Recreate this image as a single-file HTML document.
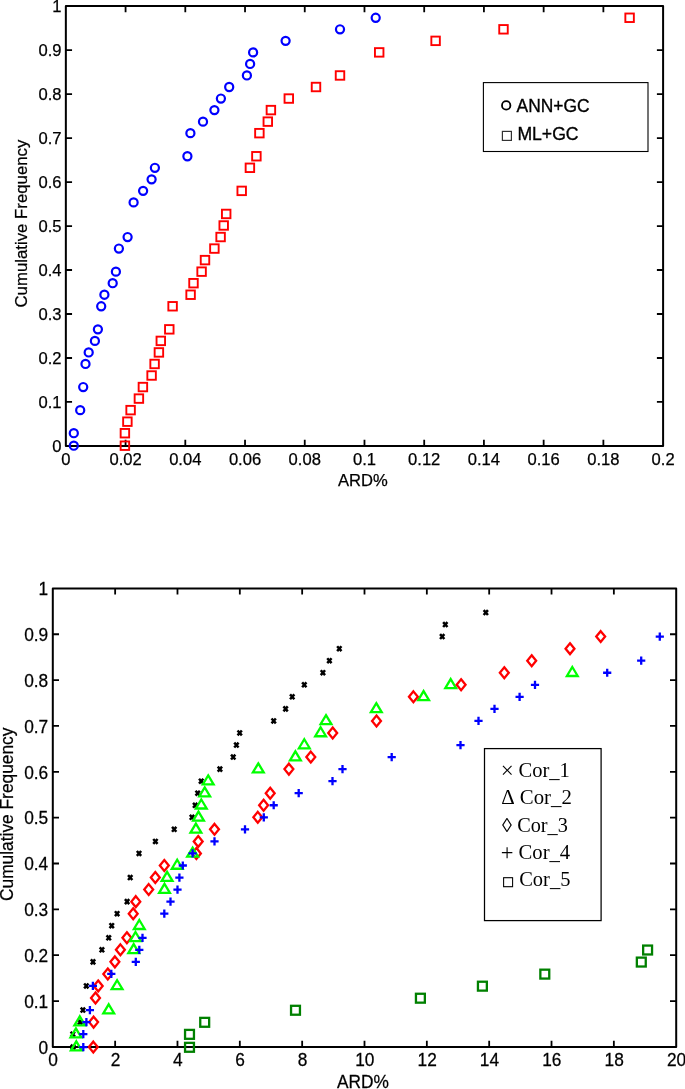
<!DOCTYPE html>
<html lang="en"><head><meta charset="utf-8"><title>Cumulative Frequency vs ARD%</title>
<style>html,body{margin:0;padding:0;background:#fff}body{width:685px;height:1089px;overflow:hidden}svg{display:block}.ax{fill:none;stroke:#000;stroke-width:2;stroke-linejoin:round}.tk{stroke:#000;stroke-width:1.8;fill:none}.t1{font-family:"Liberation Sans",Arial,Helvetica,sans-serif;font-size:16.6px;fill:#000;stroke:#000;stroke-width:.25px}.t2{font-family:"Liberation Sans",Arial,Helvetica,sans-serif;font-size:18.1px;fill:#000;stroke:#000;stroke-width:.25px}.lg1{font-family:"Liberation Sans",Arial,Helvetica,sans-serif;font-size:18.8px;fill:#000;stroke:#000;stroke-width:.35px}.lg2{font-family:"Liberation Serif","Times New Roman",Times,serif;font-size:20px;fill:#000}.bc{fill:none;stroke:#00f;stroke-width:2.2}.rs{fill:none;stroke:#f00;stroke-width:1.9}.kx{fill:none;stroke:#000;stroke-width:2.5}.gt{fill:none;stroke:#0f0;stroke-width:2.3;stroke-linejoin:miter}.rd{fill:none;stroke:#f00;stroke-width:2.3;stroke-linejoin:miter}.bp{fill:none;stroke:#00f;stroke-width:2.3}.gs{fill:none;stroke:#008000;stroke-width:2.3}</style></head><body>
<svg width="685" height="1089" viewBox="0 0 685 1089">
<rect width="685" height="1089" fill="#fff"/>
<g id="plot-top">
<path class="tk" d="M125.57 445.96v-6.2M125.57 6.1v6.2M185.3 445.96v-6.2M185.3 6.1v6.2M245.03 445.96v-6.2M245.03 6.1v6.2M304.75 445.96v-6.2M304.75 6.1v6.2M364.48 445.96v-6.2M364.48 6.1v6.2M424.2 445.96v-6.2M424.2 6.1v6.2M483.92 445.96v-6.2M483.92 6.1v6.2M543.65 445.96v-6.2M543.65 6.1v6.2M603.38 445.96v-6.2M603.38 6.1v6.2M65.85 401.97h6.2M663.1 401.97h-6.2M65.85 357.99h6.2M663.1 357.99h-6.2M65.85 314h6.2M663.1 314h-6.2M65.85 270.02h6.2M663.1 270.02h-6.2M65.85 226.03h6.2M663.1 226.03h-6.2M65.85 182.04h6.2M663.1 182.04h-6.2M65.85 138.06h6.2M663.1 138.06h-6.2M65.85 94.07h6.2M663.1 94.07h-6.2M65.85 50.09h6.2M663.1 50.09h-6.2"/>
<rect class="ax" x="65.85" y="6.1" width="597.25" height="439.86"/>
<text class="t1" x="65.85" y="464.9" text-anchor="middle">0</text>
<text class="t1" x="125.57" y="464.9" text-anchor="middle">0.02</text>
<text class="t1" x="185.3" y="464.9" text-anchor="middle">0.04</text>
<text class="t1" x="245.03" y="464.9" text-anchor="middle">0.06</text>
<text class="t1" x="304.75" y="464.9" text-anchor="middle">0.08</text>
<text class="t1" x="364.48" y="464.9" text-anchor="middle">0.1</text>
<text class="t1" x="424.2" y="464.9" text-anchor="middle">0.12</text>
<text class="t1" x="483.92" y="464.9" text-anchor="middle">0.14</text>
<text class="t1" x="543.65" y="464.9" text-anchor="middle">0.16</text>
<text class="t1" x="603.38" y="464.9" text-anchor="middle">0.18</text>
<text class="t1" x="663.1" y="464.9" text-anchor="middle">0.2</text>
<text class="t1" x="61.5" y="451.96" text-anchor="end">0</text>
<text class="t1" x="61.5" y="407.97" text-anchor="end">0.1</text>
<text class="t1" x="61.5" y="363.99" text-anchor="end">0.2</text>
<text class="t1" x="61.5" y="320" text-anchor="end">0.3</text>
<text class="t1" x="61.5" y="276.02" text-anchor="end">0.4</text>
<text class="t1" x="61.5" y="232.03" text-anchor="end">0.5</text>
<text class="t1" x="61.5" y="188.04" text-anchor="end">0.6</text>
<text class="t1" x="61.5" y="144.06" text-anchor="end">0.7</text>
<text class="t1" x="61.5" y="100.07" text-anchor="end">0.8</text>
<text class="t1" x="61.5" y="56.09" text-anchor="end">0.9</text>
<text class="t1" x="61.5" y="12.1" text-anchor="end">1</text>
<text class="t1" x="362.9" y="485.6" text-anchor="middle">ARD%</text>
<text class="t1" style="font-size:16.8px" transform="translate(27 223.6) rotate(-90)" text-anchor="middle">Cumulative Frequency</text>
<g class="rs">
<rect x="120.65" y="441.45" width="8.5" height="8.5"/>
<rect x="120.65" y="428.96" width="8.5" height="8.5"/>
<rect x="123.15" y="417.42" width="8.5" height="8.5"/>
<rect x="126.35" y="405.88" width="8.5" height="8.5"/>
<rect x="134.65" y="394.34" width="8.5" height="8.5"/>
<rect x="138.65" y="382.8" width="8.5" height="8.5"/>
<rect x="147.35" y="371.26" width="8.5" height="8.5"/>
<rect x="150.35" y="359.72" width="8.5" height="8.5"/>
<rect x="154.65" y="348.18" width="8.5" height="8.5"/>
<rect x="156.55" y="336.64" width="8.5" height="8.5"/>
<rect x="165.05" y="325.1" width="8.5" height="8.5"/>
<rect x="168.35" y="302.02" width="8.5" height="8.5"/>
<rect x="186.35" y="290.48" width="8.5" height="8.5"/>
<rect x="189.25" y="278.94" width="8.5" height="8.5"/>
<rect x="197.35" y="267.4" width="8.5" height="8.5"/>
<rect x="200.75" y="255.86" width="8.5" height="8.5"/>
<rect x="210.15" y="244.32" width="8.5" height="8.5"/>
<rect x="216.35" y="232.78" width="8.5" height="8.5"/>
<rect x="219.45" y="221.24" width="8.5" height="8.5"/>
<rect x="221.95" y="209.7" width="8.5" height="8.5"/>
<rect x="237.45" y="186.62" width="8.5" height="8.5"/>
<rect x="245.65" y="163.54" width="8.5" height="8.5"/>
<rect x="252.15" y="152" width="8.5" height="8.5"/>
<rect x="255.15" y="128.92" width="8.5" height="8.5"/>
<rect x="263.55" y="117.38" width="8.5" height="8.5"/>
<rect x="266.65" y="105.84" width="8.5" height="8.5"/>
<rect x="284.55" y="94.3" width="8.5" height="8.5"/>
<rect x="311.75" y="82.76" width="8.5" height="8.5"/>
<rect x="335.75" y="71.22" width="8.5" height="8.5"/>
<rect x="374.95" y="48.14" width="8.5" height="8.5"/>
<rect x="431.35" y="36.6" width="8.5" height="8.5"/>
<rect x="499.25" y="25.06" width="8.5" height="8.5"/>
<rect x="625.35" y="13.52" width="8.5" height="8.5"/>
</g>
<g class="bc">
<circle cx="73.8" cy="445.7" r="4.05"/>
<circle cx="73.8" cy="433.21" r="4.05"/>
<circle cx="80.2" cy="410.13" r="4.05"/>
<circle cx="83.2" cy="387.05" r="4.05"/>
<circle cx="85.5" cy="363.97" r="4.05"/>
<circle cx="88.7" cy="352.43" r="4.05"/>
<circle cx="94.9" cy="340.89" r="4.05"/>
<circle cx="97.9" cy="329.35" r="4.05"/>
<circle cx="101.2" cy="306.27" r="4.05"/>
<circle cx="104.4" cy="294.73" r="4.05"/>
<circle cx="112.7" cy="283.19" r="4.05"/>
<circle cx="115.9" cy="271.65" r="4.05"/>
<circle cx="118.9" cy="248.57" r="4.05"/>
<circle cx="127.6" cy="237.03" r="4.05"/>
<circle cx="133.6" cy="202.41" r="4.05"/>
<circle cx="143.1" cy="190.87" r="4.05"/>
<circle cx="151.6" cy="179.33" r="4.05"/>
<circle cx="154.9" cy="167.79" r="4.05"/>
<circle cx="187.4" cy="156.25" r="4.05"/>
<circle cx="190.4" cy="133.17" r="4.05"/>
<circle cx="203" cy="121.63" r="4.05"/>
<circle cx="214.4" cy="110.09" r="4.05"/>
<circle cx="220.9" cy="98.55" r="4.05"/>
<circle cx="229.2" cy="87.01" r="4.05"/>
<circle cx="246.9" cy="75.47" r="4.05"/>
<circle cx="250.1" cy="63.93" r="4.05"/>
<circle cx="253.1" cy="52.39" r="4.05"/>
<circle cx="285.6" cy="40.85" r="4.05"/>
<circle cx="340" cy="29.31" r="4.05"/>
<circle cx="375.7" cy="17.77" r="4.05"/>
</g>
<rect x="483.4" y="82.6" width="164.6" height="68.9" fill="#fff" stroke="#000" stroke-width="1.1"/>
<circle cx="506.2" cy="105.4" r="4.2" fill="none" stroke="#000" stroke-width="1.8"/>
<rect x="502.4" y="131.4" width="9" height="9" fill="none" stroke="#333" stroke-width="1.2"/>
<text class="lg1" x="516.6" y="111.8" textLength="73" lengthAdjust="spacingAndGlyphs">ANN+GC</text>
<text class="lg1" x="517.4" y="140.3" textLength="61.2" lengthAdjust="spacingAndGlyphs">ML+GC</text>
</g>
<g id="plot-bottom">
<path class="tk" d="M115.14 1046.9v-6.2M115.14 588.4v6.2M177.48 1046.9v-6.2M177.48 588.4v6.2M239.82 1046.9v-6.2M239.82 588.4v6.2M302.16 1046.9v-6.2M302.16 588.4v6.2M364.5 1046.9v-6.2M364.5 588.4v6.2M426.84 1046.9v-6.2M426.84 588.4v6.2M489.18 1046.9v-6.2M489.18 588.4v6.2M551.52 1046.9v-6.2M551.52 588.4v6.2M613.86 1046.9v-6.2M613.86 588.4v6.2M52.8 1001.05h6.2M676.2 1001.05h-6.2M52.8 955.2h6.2M676.2 955.2h-6.2M52.8 909.35h6.2M676.2 909.35h-6.2M52.8 863.5h6.2M676.2 863.5h-6.2M52.8 817.65h6.2M676.2 817.65h-6.2M52.8 771.8h6.2M676.2 771.8h-6.2M52.8 725.95h6.2M676.2 725.95h-6.2M52.8 680.1h6.2M676.2 680.1h-6.2M52.8 634.25h6.2M676.2 634.25h-6.2"/>
<rect class="ax" x="52.8" y="588.4" width="623.4" height="458.5"/>
<text class="t2" transform="translate(53.1 1066.4) scale(.956 1)" text-anchor="middle">0</text>
<text class="t2" transform="translate(115.44 1066.4) scale(.956 1)" text-anchor="middle">2</text>
<text class="t2" transform="translate(177.78 1066.4) scale(.956 1)" text-anchor="middle">4</text>
<text class="t2" transform="translate(240.12 1066.4) scale(.956 1)" text-anchor="middle">6</text>
<text class="t2" transform="translate(302.46 1066.4) scale(.956 1)" text-anchor="middle">8</text>
<text class="t2" transform="translate(364.8 1066.4) scale(.956 1)" text-anchor="middle">10</text>
<text class="t2" transform="translate(427.14 1066.4) scale(.956 1)" text-anchor="middle">12</text>
<text class="t2" transform="translate(489.48 1066.4) scale(.956 1)" text-anchor="middle">14</text>
<text class="t2" transform="translate(551.82 1066.4) scale(.956 1)" text-anchor="middle">16</text>
<text class="t2" transform="translate(614.16 1066.4) scale(.956 1)" text-anchor="middle">18</text>
<text class="t2" transform="translate(676.5 1066.4) scale(.956 1)" text-anchor="middle">20</text>
<text class="t2" transform="translate(48.2 1053.6) scale(.956 1)" text-anchor="end">0</text>
<text class="t2" transform="translate(48.2 1007.75) scale(.956 1)" text-anchor="end">0.1</text>
<text class="t2" transform="translate(48.2 961.9) scale(.956 1)" text-anchor="end">0.2</text>
<text class="t2" transform="translate(48.2 916.05) scale(.956 1)" text-anchor="end">0.3</text>
<text class="t2" transform="translate(48.2 870.2) scale(.956 1)" text-anchor="end">0.4</text>
<text class="t2" transform="translate(48.2 824.35) scale(.956 1)" text-anchor="end">0.5</text>
<text class="t2" transform="translate(48.2 778.5) scale(.956 1)" text-anchor="end">0.6</text>
<text class="t2" transform="translate(48.2 732.65) scale(.956 1)" text-anchor="end">0.7</text>
<text class="t2" transform="translate(48.2 686.8) scale(.956 1)" text-anchor="end">0.8</text>
<text class="t2" transform="translate(48.2 640.95) scale(.956 1)" text-anchor="end">0.9</text>
<text class="t2" transform="translate(48.2 595.1) scale(.956 1)" text-anchor="end">1</text>
<text class="t2" transform="translate(362.9 1087.9) scale(.956 1)" text-anchor="middle">ARD%</text>
<text class="t2" transform="translate(12.7 814.3) rotate(-90) scale(.958 1)" text-anchor="middle">Cumulative Frequency</text>
<g class="kx">
<path d="M70.85 1044.65l4.3 4.9m0 -4.9l-4.3 4.9"/>
<path d="M70.65 1031.7l4.3 4.9m0 -4.9l-4.3 4.9"/>
<path d="M77.95 1019.66l4.3 4.9m0 -4.9l-4.3 4.9"/>
<path d="M80.75 1007.61l4.3 4.9m0 -4.9l-4.3 4.9"/>
<path d="M84.15 983.51l4.3 4.9m0 -4.9l-4.3 4.9"/>
<path d="M90.85 959.42l4.3 4.9m0 -4.9l-4.3 4.9"/>
<path d="M99.75 947.37l4.3 4.9m0 -4.9l-4.3 4.9"/>
<path d="M106.55 935.33l4.3 4.9m0 -4.9l-4.3 4.9"/>
<path d="M109.55 923.28l4.3 4.9m0 -4.9l-4.3 4.9"/>
<path d="M114.95 911.23l4.3 4.9m0 -4.9l-4.3 4.9"/>
<path d="M124.95 899.19l4.3 4.9m0 -4.9l-4.3 4.9"/>
<path d="M128.05 875.09l4.3 4.9m0 -4.9l-4.3 4.9"/>
<path d="M136.85 851l4.3 4.9m0 -4.9l-4.3 4.9"/>
<path d="M153.25 838.95l4.3 4.9m0 -4.9l-4.3 4.9"/>
<path d="M172.05 826.9l4.3 4.9m0 -4.9l-4.3 4.9"/>
<path d="M189.85 814.86l4.3 4.9m0 -4.9l-4.3 4.9"/>
<path d="M193.05 802.81l4.3 4.9m0 -4.9l-4.3 4.9"/>
<path d="M195.55 790.76l4.3 4.9m0 -4.9l-4.3 4.9"/>
<path d="M199.05 778.72l4.3 4.9m0 -4.9l-4.3 4.9"/>
<path d="M217.75 766.67l4.3 4.9m0 -4.9l-4.3 4.9"/>
<path d="M231.05 754.62l4.3 4.9m0 -4.9l-4.3 4.9"/>
<path d="M234.25 742.58l4.3 4.9m0 -4.9l-4.3 4.9"/>
<path d="M237.55 730.53l4.3 4.9m0 -4.9l-4.3 4.9"/>
<path d="M271.55 718.48l4.3 4.9m0 -4.9l-4.3 4.9"/>
<path d="M283.45 706.43l4.3 4.9m0 -4.9l-4.3 4.9"/>
<path d="M290.05 694.39l4.3 4.9m0 -4.9l-4.3 4.9"/>
<path d="M302.15 682.34l4.3 4.9m0 -4.9l-4.3 4.9"/>
<path d="M320.75 670.29l4.3 4.9m0 -4.9l-4.3 4.9"/>
<path d="M327.25 658.25l4.3 4.9m0 -4.9l-4.3 4.9"/>
<path d="M337.15 646.2l4.3 4.9m0 -4.9l-4.3 4.9"/>
<path d="M440.05 634.15l4.3 4.9m0 -4.9l-4.3 4.9"/>
<path d="M443.15 622.11l4.3 4.9m0 -4.9l-4.3 4.9"/>
<path d="M483.65 610.06l4.3 4.9m0 -4.9l-4.3 4.9"/>
</g>
<g class="rd">
<path d="M93.3 1041.65l4.45 5.45l-4.45 5.45l-4.45 -5.45Z"/>
<path d="M93.6 1016.66l4.45 5.45l-4.45 5.45l-4.45 -5.45Z"/>
<path d="M95.5 992.56l4.45 5.45l-4.45 5.45l-4.45 -5.45Z"/>
<path d="M98.2 980.51l4.45 5.45l-4.45 5.45l-4.45 -5.45Z"/>
<path d="M107.8 968.47l4.45 5.45l-4.45 5.45l-4.45 -5.45Z"/>
<path d="M114.9 956.42l4.45 5.45l-4.45 5.45l-4.45 -5.45Z"/>
<path d="M120.4 944.37l4.45 5.45l-4.45 5.45l-4.45 -5.45Z"/>
<path d="M126.9 932.33l4.45 5.45l-4.45 5.45l-4.45 -5.45Z"/>
<path d="M133.2 908.23l4.45 5.45l-4.45 5.45l-4.45 -5.45Z"/>
<path d="M135.8 896.19l4.45 5.45l-4.45 5.45l-4.45 -5.45Z"/>
<path d="M148.7 884.14l4.45 5.45l-4.45 5.45l-4.45 -5.45Z"/>
<path d="M155.3 872.09l4.45 5.45l-4.45 5.45l-4.45 -5.45Z"/>
<path d="M164.3 860.04l4.45 5.45l-4.45 5.45l-4.45 -5.45Z"/>
<path d="M196.4 848l4.45 5.45l-4.45 5.45l-4.45 -5.45Z"/>
<path d="M198.2 835.95l4.45 5.45l-4.45 5.45l-4.45 -5.45Z"/>
<path d="M214.5 823.9l4.45 5.45l-4.45 5.45l-4.45 -5.45Z"/>
<path d="M257.8 811.86l4.45 5.45l-4.45 5.45l-4.45 -5.45Z"/>
</g>
<g class="gt">
<path d="M76.3 1041.35L81.7 1050.35L70.9 1050.35Z"/>
<path d="M75.9 1028.4L81.3 1037.4L70.5 1037.4Z"/>
<path d="M79.8 1016.36L85.2 1025.36L74.4 1025.36Z"/>
<path d="M108.7 1004.31L114.1 1013.31L103.3 1013.31Z"/>
<path d="M117.1 980.22L122.5 989.22L111.7 989.22Z"/>
<path d="M133.7 944.07L139.1 953.07L128.3 953.07Z"/>
<path d="M135.5 932.03L140.9 941.03L130.1 941.03Z"/>
<path d="M139.3 919.98L144.7 928.98L133.9 928.98Z"/>
<path d="M164.5 883.84L169.9 892.84L159.1 892.84Z"/>
<path d="M167.1 871.79L172.5 880.79L161.7 880.79Z"/>
<path d="M177.2 859.75L182.6 868.75L171.8 868.75Z"/>
<path d="M192.6 847.7L198 856.7L187.2 856.7Z"/>
<path d="M195.9 823.6L201.3 832.6L190.5 832.6Z"/>
<path d="M198.5 811.56L203.9 820.56L193.1 820.56Z"/>
<path d="M201.3 799.51L206.7 808.51L195.9 808.51Z"/>
<path d="M204.7 787.46L210.1 796.46L199.3 796.46Z"/>
<path d="M208.2 775.42L213.6 784.42L202.8 784.42Z"/>
<path d="M258.3 763.37L263.7 772.37L252.9 772.37Z"/>
<path d="M295.4 751.32L300.8 760.32L290 760.32Z"/>
<path d="M304.3 739.28L309.7 748.28L298.9 748.28Z"/>
<path d="M320.6 727.23L326 736.23L315.2 736.23Z"/>
<path d="M326 715.18L331.4 724.18L320.6 724.18Z"/>
<path d="M376.3 703.13L381.7 712.13L370.9 712.13Z"/>
<path d="M423.6 691.09L429 700.09L418.2 700.09Z"/>
<path d="M450.7 679.04L456.1 688.04L445.3 688.04Z"/>
<path d="M572.3 666.99L577.7 675.99L566.9 675.99Z"/>
</g>
<g class="rd">
<path d="M263.6 799.81l4.45 5.45l-4.45 5.45l-4.45 -5.45Z"/>
<path d="M270.2 787.76l4.45 5.45l-4.45 5.45l-4.45 -5.45Z"/>
<path d="M288.9 763.67l4.45 5.45l-4.45 5.45l-4.45 -5.45Z"/>
<path d="M310.8 751.62l4.45 5.45l-4.45 5.45l-4.45 -5.45Z"/>
<path d="M332.7 727.53l4.45 5.45l-4.45 5.45l-4.45 -5.45Z"/>
<path d="M376.5 715.48l4.45 5.45l-4.45 5.45l-4.45 -5.45Z"/>
<path d="M413.4 691.39l4.45 5.45l-4.45 5.45l-4.45 -5.45Z"/>
<path d="M461.1 679.34l4.45 5.45l-4.45 5.45l-4.45 -5.45Z"/>
<path d="M504.3 667.29l4.45 5.45l-4.45 5.45l-4.45 -5.45Z"/>
<path d="M531.7 655.25l4.45 5.45l-4.45 5.45l-4.45 -5.45Z"/>
<path d="M570 643.2l4.45 5.45l-4.45 5.45l-4.45 -5.45Z"/>
<path d="M600.7 631.15l4.45 5.45l-4.45 5.45l-4.45 -5.45Z"/>
</g>
<g class="bp">
<path d="M79.2 1047.1h8.2M83.3 1043v8.2"/>
<path d="M79.2 1034.15h8.2M83.3 1030.05v8.2"/>
<path d="M82.3 1022.11h8.2M86.4 1018.01v8.2"/>
<path d="M85.8 1010.06h8.2M89.9 1005.96v8.2"/>
<path d="M88.8 985.97h8.2M92.9 981.87v8.2"/>
<path d="M107.2 973.92h8.2M111.3 969.82v8.2"/>
<path d="M131.7 961.87h8.2M135.8 957.77v8.2"/>
<path d="M135.2 949.82h8.2M139.3 945.72v8.2"/>
<path d="M138.4 937.78h8.2M142.5 933.68v8.2"/>
<path d="M160.2 913.68h8.2M164.3 909.58v8.2"/>
<path d="M166.4 901.64h8.2M170.5 897.54v8.2"/>
<path d="M173.4 889.59h8.2M177.5 885.49v8.2"/>
<path d="M175.3 877.54h8.2M179.4 873.44v8.2"/>
<path d="M178.7 865.5h8.2M182.8 861.39v8.2"/>
<path d="M188.5 853.45h8.2M192.6 849.35v8.2"/>
<path d="M210.4 841.4h8.2M214.5 837.3v8.2"/>
<path d="M240.9 829.35h8.2M245 825.25v8.2"/>
<path d="M259.7 817.31h8.2M263.8 813.21v8.2"/>
<path d="M269.6 805.26h8.2M273.7 801.16v8.2"/>
<path d="M294.6 793.21h8.2M298.7 789.11v8.2"/>
<path d="M328.4 781.17h8.2M332.5 777.07v8.2"/>
<path d="M338.4 769.12h8.2M342.5 765.02v8.2"/>
<path d="M387.6 757.07h8.2M391.7 752.97v8.2"/>
<path d="M456.4 745.03h8.2M460.5 740.93v8.2"/>
<path d="M474.4 720.93h8.2M478.5 716.83v8.2"/>
<path d="M490.4 708.88h8.2M494.5 704.78v8.2"/>
<path d="M515.5 696.84h8.2M519.6 692.74v8.2"/>
<path d="M530.9 684.79h8.2M535 680.69v8.2"/>
<path d="M603.1 672.74h8.2M607.2 668.64v8.2"/>
<path d="M637.1 660.7h8.2M641.2 656.6v8.2"/>
<path d="M655.7 636.6h8.2M659.8 632.5v8.2"/>
</g>
<g class="gs">
<rect x="185.05" y="1042.85" width="8.9" height="8.9"/>
<rect x="185.05" y="1029.9" width="8.9" height="8.9"/>
<rect x="200.25" y="1017.86" width="8.9" height="8.9"/>
<rect x="291.05" y="1005.81" width="8.9" height="8.9"/>
<rect x="415.95" y="993.76" width="8.9" height="8.9"/>
<rect x="477.95" y="981.72" width="8.9" height="8.9"/>
<rect x="540.35" y="969.67" width="8.9" height="8.9"/>
<rect x="636.85" y="957.62" width="8.9" height="8.9"/>
<rect x="643.15" y="945.57" width="8.9" height="8.9"/>
</g>
<rect x="484.5" y="748.6" width="116.6" height="172" fill="#fff" stroke="#000" stroke-width="1.25"/>
<text class="lg2" x="507.2" y="776.9" text-anchor="middle" style="font-size:23px" dy="1">×</text><text class="lg2" x="518.5" y="776.9" textLength="51.4" lengthAdjust="spacingAndGlyphs">Cor_1</text>
<text class="lg2" x="508.1" y="804.2" text-anchor="middle" style="font-size:21px">Δ</text><text class="lg2" x="519.8" y="804.2" textLength="52" lengthAdjust="spacingAndGlyphs">Cor_2</text>
<text class="lg2" x="506.9" y="831.6" text-anchor="middle">◊</text><text class="lg2" x="517.2" y="831.6" textLength="50.7" lengthAdjust="spacingAndGlyphs">Cor_3</text>
<text class="lg2" x="507.2" y="858.9" text-anchor="middle" style="font-size:22.5px" dy="0.8">+</text><text class="lg2" x="518.5" y="858.9" textLength="51.7" lengthAdjust="spacingAndGlyphs">Cor_4</text>
<text class="lg2" x="508" y="886.3" text-anchor="middle" style="font-size:16px;stroke:#000;stroke-width:.5px" dy="0.9">□</text><text class="lg2" x="519.2" y="886.3" textLength="51.2" lengthAdjust="spacingAndGlyphs">Cor_5</text>
</g>
</svg></body></html>
